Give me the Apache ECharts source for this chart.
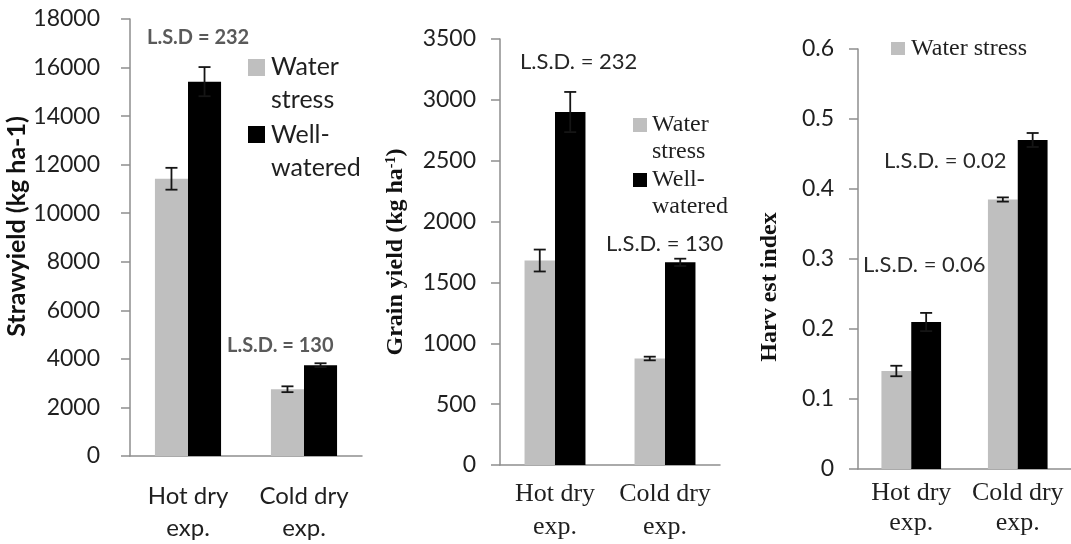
<!DOCTYPE html>
<html>
<head>
<meta charset="utf-8">
<script src="https://cdn.jsdelivr.net/npm/echarts@6/dist/echarts.min.js"></script>
<style>
  html, body { margin: 0; padding: 0; background: #fff; }
  #chart { width: 1071px; height: 544px; }
</style>
</head>
<body>
<div id="chart"></div>
<script>
// categories shared by the three panels
const categories = ['Hot dry\nexp.', 'Cold dry\nexp.'];

// straw yield (kg ha-1)
const strawStress = [11420, 2750];
const strawStressErr = [450, 120];
const strawWell = [15420, 3740];
const strawWellErr = [600, 80];

// grain yield (kg ha-1)
const grainStress = [1680, 875];
const grainStressErr = [90, 15];
const grainWell = [2900, 1665];
const grainWellErr = [165, 30];

// harvest index
const hiStress = [0.14, 0.385];
const hiStressErr = [0.0075, 0.003];
const hiWell = [0.21, 0.47];
const hiWellErr = [0.013, 0.01];

const SANS = 'Lato, "Noto Sans", sans-serif';
const SERIF = '"Liberation Serif", "DejaVu Serif", serif';
const AXIS_GRAY = '#8e8e8e';
const TEXT = '#1f1f1f';
const GRAY_BAR = '#bfbfbf';

const chart = echarts.init(document.getElementById('chart'));

// bar series helper
const barSeries = (name, data, idx, color, width) => ({
  name: name,
  type: 'bar',
  xAxisIndex: idx,
  yAxisIndex: idx,
  data: data,
  barWidth: width,
  barGap: '0%',
  itemStyle: { color: color },
  animation: false
});

// error bars drawn on top of a bar; side -1 = left bar, +1 = right bar
const errorSeries = (vals, errs, idx, side, pct) => ({
  type: 'custom',
  xAxisIndex: idx,
  yAxisIndex: idx,
  z: 10,
  silent: true,
  animation: false,
  data: vals.map((v, i) => [i, v, errs[i]]),
  renderItem: (params, api) => {
    const i = api.value(0);
    const v = api.value(1);
    const e = api.value(2);
    const band = api.size([1, 0])[0];
    const x = api.coord([i, v])[0] + side * band * pct / 2;
    const top = api.coord([i, v + e])[1];
    const bot = api.coord([i, v - e])[1];
    const hw = 6;
    const st = { stroke: '#151515', lineWidth: 1.8 };
    return {
      type: 'group',
      children: [
        { type: 'line', shape: { x1: x, y1: top, x2: x, y2: bot }, style: st },
        { type: 'line', shape: { x1: x - hw, y1: top, x2: x + hw, y2: top }, style: st },
        { type: 'line', shape: { x1: x - hw, y1: bot, x2: x + hw, y2: bot }, style: st }
      ]
    };
  }
});

const xAxisBase = (idx, font, size, lh, margin) => ({
  type: 'category',
  gridIndex: idx,
  data: categories,
  axisLine: { lineStyle: { color: AXIS_GRAY, width: 1.5 } },
  axisTick: { length: 10, lineStyle: { color: AXIS_GRAY, width: 1.5 } },
  axisLabel: {
    interval: 0,
    hideOverlap: false,
    color: TEXT,
    fontFamily: font,
    fontSize: size,
    lineHeight: lh,
    margin: margin
  }
});

const yAxisBase = (idx, max, interval, margin) => ({
  type: 'value',
  gridIndex: idx,
  min: 0,
  max: max,
  interval: interval,
  splitLine: { show: false },
  axisLine: { show: true, lineStyle: { color: AXIS_GRAY, width: 1.5 } },
  axisTick: { show: true, length: 9, lineStyle: { color: AXIS_GRAY, width: 1.5 } },
  axisLabel: {
    color: TEXT, fontFamily: SANS, fontSize: 23, margin: margin,
    formatter: v => String(+v.toFixed(4))
  },
  nameLocation: 'middle',
  nameRotate: 90
});

const y1 = yAxisBase(0, 18000, 2000, 30);
y1.name = 'Strawyield (kg ha-1)';
y1.nameGap = 95;
y1.nameTextStyle = { color: '#111', fontFamily: SANS, fontWeight: 'bold', fontSize: 25, padding: [0, 0, 0, 22] };

const y2 = yAxisBase(1, 3500, 500, 24);
y2.name = 'Grain yield (kg ha{sup|-1})';
y2.nameGap = 92;
y2.nameTextStyle = {
  color: '#111', fontFamily: SERIF, fontWeight: 'bold', fontSize: 24,
  rich: { sup: { fontFamily: SERIF, fontWeight: 'bold', fontSize: 14, verticalAlign: 'top', color: '#111' } }
};

const y3 = yAxisBase(2, 0.6, 0.1, 24);
y3.name = 'Harv est index';
y3.nameGap = 76;
y3.nameTextStyle = { color: '#111', fontFamily: SERIF, fontWeight: 'bold', fontSize: 24, padding: [0, 56, 0, 0] };

// free text: L.S.D. notes and legends
const txt = (text, x, y, font, size, color, weight, extra) => ({
  type: 'text',
  x: x,
  y: y,
  silent: true,
  style: Object.assign({
    text: text,
    fill: color,
    font: (weight || 'normal') + ' ' + size + 'px ' + font,
    verticalAlign: 'middle'
  }, extra || {})
});
const box = (x, y, w, h, color) => ({
  type: 'rect', x: x, y: y, silent: true,
  shape: { width: w, height: h }, style: { fill: color }
});

const option = {
  backgroundColor: '#ffffff',
  animation: false,
  grid: [
    { left: 130, top: 19, width: 232, height: 440 },
    { left: 500, top: 39, width: 220, height: 432 },
    { left: 858, top: 49, width: 224, height: 420 }
  ],
  xAxis: [
    xAxisBase(0, SANS, 24, 32, 24),
    xAxisBase(1, SERIF, 26, 33, 13),
    xAxisBase(2, SERIF, 26, 30, 9)
  ],
  yAxis: [y1, y2, y3],
  series: [
    barSeries('Water stress', strawStress, 0, GRAY_BAR, '28.5%'),
    barSeries('Well-watered', strawWell, 0, '#000000', '28.5%'),
    errorSeries(strawStress, strawStressErr, 0, -1, 0.285),
    errorSeries(strawWell, strawWellErr, 0, 1, 0.285),

    barSeries('Water stress', grainStress, 1, GRAY_BAR, '27.7%'),
    barSeries('Well-watered', grainWell, 1, '#000000', '27.7%'),
    errorSeries(grainStress, grainStressErr, 1, -1, 0.277),
    errorSeries(grainWell, grainWellErr, 1, 1, 0.277),

    barSeries('Water stress', hiStress, 2, GRAY_BAR, '28%'),
    barSeries('Well-watered', hiWell, 2, '#000000', '28%'),
    errorSeries(hiStress, hiStressErr, 2, -1, 0.28),
    errorSeries(hiWell, hiWellErr, 2, 1, 0.28)
  ],
  graphic: [
    // panel 1
    txt('L.S.D = 232', 147, 38, SANS, 20, '#5a5a5a', 'bold'),
    txt('L.S.D. = 130', 227, 346, SANS, 20, '#5a5a5a', 'bold'),
    box(248, 59, 17, 17, GRAY_BAR),
    txt('Water\nstress', 271, 50, SANS, 25, TEXT, 'normal', { verticalAlign: 'top', lineHeight: 33 }),
    box(248, 126, 17, 17, '#000000'),
    txt('Well-\nwatered', 271, 118, SANS, 25, TEXT, 'normal', { verticalAlign: 'top', lineHeight: 33 }),
    // panel 2
    txt('L.S.D. = 232', 520, 62, SANS, 22, '#262626'),
    txt('L.S.D. = 130', 606, 244, SANS, 22, '#262626'),
    box(633, 118, 14, 14, GRAY_BAR),
    txt('Water\nstress', 652, 111, SERIF, 24, TEXT, 'normal', { verticalAlign: 'top', lineHeight: 27 }),
    box(633, 173, 14, 14, '#000000'),
    txt('Well-\nwatered', 652, 166, SERIF, 24, TEXT, 'normal', { verticalAlign: 'top', lineHeight: 27 }),
    // panel 3
    box(891, 42, 14, 13, GRAY_BAR),
    txt('Water stress', 911, 49, SERIF, 24, TEXT),
    txt('L.S.D. = 0.02', 884, 161, SANS, 22, '#2a2a2a'),
    txt('L.S.D. = 0.06', 863, 265, SANS, 22, '#2a2a2a')
  ]
};

chart.setOption(option);
</script>
</body>
</html>
